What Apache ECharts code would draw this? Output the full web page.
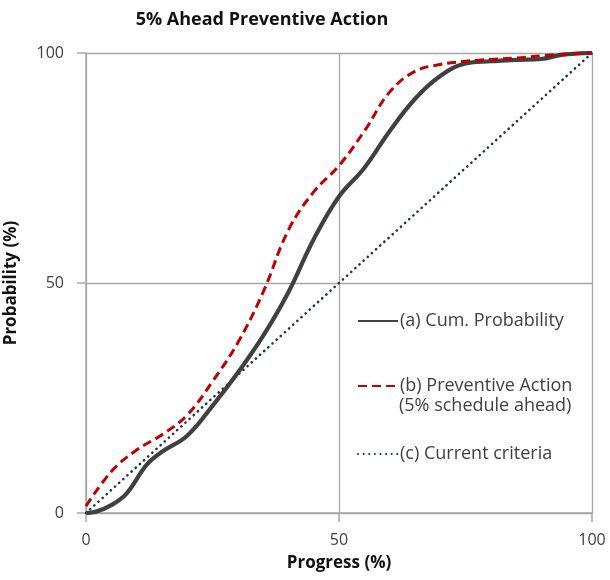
<!DOCTYPE html>
<html>
<head>
<meta charset="utf-8">
<script src="https://cdn.jsdelivr.net/npm/echarts@6/dist/echarts.min.js"></script>
<style>
  html, body { margin: 0; padding: 0; background: #fff; }
  #chart { width: 610px; height: 580px; }
</style>
</head>
<body>
<div id="chart"></div>
<script>
// Cumulative probability vs. progress
const progressA = [0, 2, 5, 8, 12, 15, 20, 25, 30, 35, 40, 45, 50, 55, 60, 65, 70, 75, 80, 85, 90, 94, 100];
const cumProbability = [0, 0.3, 1.7, 4.2, 10.5, 13.3, 16.8, 23.3, 30.5, 38.5, 48, 59.5, 68.8, 75, 83, 90, 95, 97.7, 98.2, 98.5, 98.7, 99.6, 100];

// Preventive action curve (5% schedule ahead)
const progressB = [0, 5, 10, 15, 20, 25, 30, 35, 40, 45, 50, 55, 60, 65, 70, 75, 80, 85, 90, 95, 100];
const preventiveAction = [1.5, 9, 13.7, 17, 21.3, 28.6, 37, 48, 61.5, 69.8, 75.5, 83, 91.5, 96, 97.5, 98.2, 98.6, 98.9, 99.4, 99.8, 100];

// Current criteria: straight diagonal
const progressC = [0, 100];
const currentCriteria = [0, 100];

const xTicks = [0, 50, 100];
const yTicks = [0, 50, 100];

const seriesNames = ['(a) Cum. Probability', '(b) Preventive Action', '(c) Current criteria'];
const seriesNoteB = '(5% schedule ahead)';

const pair = (xs, ys) => xs.map((x, i) => [x, ys[i]]);

const FONT = '"Open Sans", Lato, sans-serif';
const chart = echarts.init(document.getElementById('chart'), null, { renderer: 'canvas' });

const axisCommon = {
  type: 'value',
  min: xTicks[0],
  max: xTicks[xTicks.length - 1],
  interval: 50,
  axisLine: { show: true, lineStyle: { color: '#a6a6a6', width: 1.5 } },
  axisTick: { show: true, length: 9, lineStyle: { color: '#a6a6a6', width: 1.5 } },
  splitLine: { show: true, lineStyle: { color: '#a6a6a6', width: 1.3 } },
  axisLabel: { color: '#404040', fontSize: 16, fontFamily: FONT },
  nameLocation: 'middle',
  nameTextStyle: { color: '#111', fontSize: 17, fontWeight: 'bold', fontFamily: FONT }
};

const legendBase = {
  left: 352,
  itemWidth: 40,
  itemHeight: 14,
  itemGap: 0,
  itemStyle: { opacity: 0, color: 'transparent', borderWidth: 0 },
  textStyle: { color: '#404040', fontSize: 18, fontFamily: FONT, padding: [0, 0, 0, -3] }
};

chart.setOption({
  backgroundColor: '#fff',
  animation: false,
  title: {
    text: '5% Ahead Preventive Action',
    left: 257,
    textAlign: 'center',
    top: 6,
    textStyle: { fontSize: 18, fontWeight: 'bold', color: '#111', fontFamily: FONT }
  },
  grid: { left: 86, right: 18, top: 53, bottom: 67, containLabel: false, outerBoundsMode: 'none' },
  xAxis: Object.assign({}, axisCommon, {
    name: 'Progress (%)',
    nameGap: 42,
    axisLabel: Object.assign({}, axisCommon.axisLabel, { margin: 19 })
  }),
  yAxis: Object.assign({}, axisCommon, {
    min: yTicks[0],
    max: yTicks[yTicks.length - 1],
    name: 'Probability (%)',
    nameGap: 66,
    axisLabel: Object.assign({}, axisCommon.axisLabel, { margin: 22 })
  }),
  legend: [
    Object.assign({}, legendBase, { data: [seriesNames[0]], top: 307 }),
    Object.assign({}, legendBase, { data: [seriesNames[1]], top: 372 }),
    Object.assign({}, legendBase, { data: [seriesNames[2]], top: 440 })
  ],
  graphic: [
    {
      type: 'text',
      left: 399, top: 397,
      style: { text: seriesNoteB, fill: '#404040', font: '18px ' + FONT }
    }
  ],
  series: [
    {
      name: seriesNames[2],
      type: 'line',
      data: pair(progressC, currentCriteria),
      showSymbol: false,
      symbol: 'none',
      itemStyle: { color: '#1f3050' },
      lineStyle: { color: '#1f3050', width: 2.6, type: [0.1, 5.5], cap: 'round' },
      z: 3
    },
    {
      name: seriesNames[0],
      type: 'line',
      data: pair(progressA, cumProbability),
      smooth: 0.4,
      showSymbol: false,
      symbol: 'none',
      itemStyle: { color: '#404040' },
      lineStyle: { color: '#404040', width: 4.2 },
      z: 4
    },
    {
      name: seriesNames[1],
      type: 'line',
      data: pair(progressB, preventiveAction),
      smooth: 0.4,
      showSymbol: false,
      symbol: 'none',
      itemStyle: { color: '#c00000' },
      lineStyle: { color: '#c00000', width: 3, type: [9, 5] },
      z: 5
    }
  ]
});
</script>
</body>
</html>
